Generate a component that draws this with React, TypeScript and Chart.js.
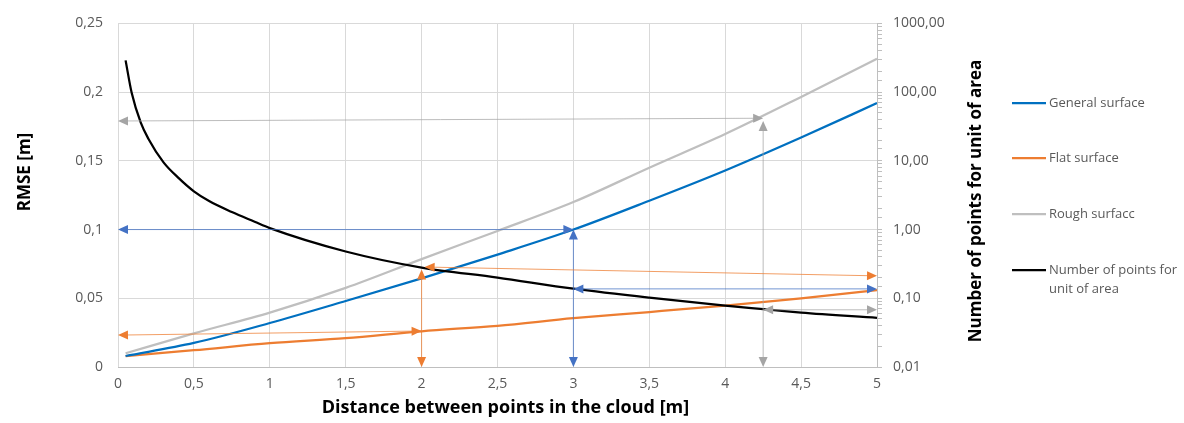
import React, { useEffect, useRef } from 'react';
import { Chart, registerables } from 'chart.js';

Chart.register(...registerables);

const FONT = '"Open Sans", sans-serif';
const TICK_COLOR = '#595959';

// Distances (m) for RMSE series
const distances = [0.05, 0.5, 1, 1.5, 2, 2.5, 3, 3.5, 4, 4.5, 5];
const generalSurface = [0.008, 0.0175, 0.032, 0.048, 0.0645, 0.0818, 0.1, 0.121, 0.143, 0.167, 0.192];
const flatSurface = [0.008, 0.0122, 0.0173, 0.021, 0.026, 0.03, 0.0355, 0.04, 0.0447, 0.05, 0.056];
const roughSurface = [0.01, 0.0245, 0.0396, 0.0576, 0.0785, 0.099, 0.12, 0.145, 0.1695, 0.1965, 0.2243];

// Number of points for unit of area (right log axis)
const densityDistances = [0.05, 0.09, 0.15, 0.2, 0.3, 0.4, 0.5, 0.6, 0.75, 0.9, 1, 1.5, 2, 2.5, 3, 3.5, 4, 4.5, 5];
const densityValues = [290, 98, 36, 21, 9.5, 5.6, 3.6, 2.6, 1.8, 1.3, 1.05, 0.48, 0.28, 0.2, 0.138, 0.102, 0.078, 0.062, 0.052];

const seriesLabels = ['General surface', 'Flat surface', 'Rough surfacc', 'Number of points for unit of area'];
const legendLines = [['General surface'], ['Flat surface'], ['Rough surfacc'], ['Number of points for', 'unit of area']];
const seriesColors = ['#0070C0', '#ED7D31', '#BFBFBF', '#000000'];

const xTitle = 'Distance between points in the cloud [m]';
const yTitle = 'RMSE [m]';
const y2Title = 'Number of points for unit of area';

// Reading arrows: start [x, value], end [x, value], axis, colour
const arrowStart = [
  [0, 0.179], [4.25, 0.179], [4.25, 0.068],
  [0, 0.1], [3, 0.1], [3, 0.137],
  [0, 0.0232], [2, 0.071], [2.02, 0.285],
];
const arrowEnd = [
  [4.25, 0.181], [4.25, 0], [5, 0.068],
  [3, 0.1], [3, 0], [5, 0.137],
  [2, 0.0262], [2, 0], [5, 0.212],
];
const arrowAxes = ['y', 'y', 'y2', 'y', 'y', 'y2', 'y', 'y', 'y2'];
const arrowColors = ['#A5A5A5', '#A5A5A5', '#A5A5A5', '#4472C4', '#4472C4', '#4472C4', '#ED7D31', '#ED7D31', '#ED7D31'];

const fmt = (v: number, d?: number) => {
  const s = d !== undefined ? v.toFixed(d) : String(Math.round(v * 1000) / 1000);
  return s.replace('.', ',');
};

function drawHead(ctx: CanvasRenderingContext2D, tx: number, ty: number, dx: number, dy: number, len: number, w: number) {
  const bx = tx - dx * len;
  const by = ty - dy * len;
  const px = -dy;
  const py = dx;
  ctx.beginPath();
  ctx.moveTo(tx, ty);
  ctx.lineTo(bx + px * w, by + py * w);
  ctx.lineTo(bx - px * w, by - py * w);
  ctx.closePath();
  ctx.fill();
}

const overlayPlugin = {
  id: 'overlay',
  afterDatasetsDraw(chart: any) {
    const ctx: CanvasRenderingContext2D = chart.ctx;
    const xs = chart.scales.x;
    ctx.save();
    for (let i = 0; i < arrowStart.length; i++) {
      const ys = chart.scales[arrowAxes[i]];
      const x1 = xs.getPixelForValue(arrowStart[i][0]);
      const y1 = ys.getPixelForValue(arrowStart[i][1]);
      const x2 = xs.getPixelForValue(arrowEnd[i][0]);
      const y2 = ys.getPixelForValue(arrowEnd[i][1]);
      const L = Math.hypot(x2 - x1, y2 - y1);
      const dx = (x2 - x1) / L;
      const dy = (y2 - y1) / L;
      const len = 10;
      const w = 4.5;
      ctx.strokeStyle = arrowColors[i];
      ctx.fillStyle = arrowColors[i];
      ctx.globalAlpha = 0.75;
      ctx.lineWidth = 1;
      ctx.beginPath();
      ctx.moveTo(x1 + dx * (len - 1), y1 + dy * (len - 1));
      ctx.lineTo(x2 - dx * (len - 1), y2 - dy * (len - 1));
      ctx.stroke();
      ctx.globalAlpha = 1;
      drawHead(ctx, x1, y1, -dx, -dy, len, w);
      drawHead(ctx, x2, y2, dx, dy, len, w);
    }
    ctx.restore();
  },
  afterDraw(chart: any) {
    const ctx: CanvasRenderingContext2D = chart.ctx;
    const area = chart.chartArea;
    ctx.save();
    // axis titles
    ctx.fillStyle = '#000';
    ctx.textAlign = 'center';
    ctx.textBaseline = 'middle';
    ctx.font = `bold 18px ${FONT}`;
    ctx.fillText(xTitle, (area.left + area.right) / 2 + 8, 408);
    ctx.font = `bold 17px ${FONT}`;
    ctx.save();
    ctx.translate(25, 172);
    ctx.rotate(-Math.PI / 2);
    ctx.fillText(yTitle, 0, 0);
    ctx.restore();
    ctx.save();
    ctx.translate(976, 201);
    ctx.rotate(-Math.PI / 2);
    ctx.fillText(y2Title, 0, 0);
    ctx.restore();
    // legend
    const ys = [103, 158, 214, 270];
    ctx.font = `13px ${FONT}`;
    ctx.textAlign = 'left';
    for (let i = 0; i < legendLines.length; i++) {
      ctx.strokeStyle = seriesColors[i];
      ctx.lineWidth = 2.25;
      ctx.beginPath();
      ctx.moveTo(1012, ys[i]);
      ctx.lineTo(1046, ys[i]);
      ctx.stroke();
      ctx.fillStyle = TICK_COLOR;
      legendLines[i].forEach((t, j) => ctx.fillText(t, 1049, ys[i] + j * 19));
    }
    ctx.restore();
  },
};

export default function App() {
  const ref = useRef<HTMLCanvasElement>(null);
  useEffect(() => {
    document.body.style.margin = '0';
    const toPts = (xs: number[], vs: number[]) => xs.map((x, i) => ({ x, y: vs[i] }));
    const mk = (i: number, data: any[], axis: string) => ({
      label: seriesLabels[i],
      data,
      yAxisID: axis,
      borderColor: seriesColors[i],
      backgroundColor: seriesColors[i],
      borderWidth: 2.25,
      pointRadius: 0,
      cubicInterpolationMode: 'monotone' as const,
      fill: false,
    });
    const chart = new Chart(ref.current!, {
      type: 'line',
      data: {
        datasets: [
          mk(3, toPts(densityDistances, densityValues), 'y2'),
          mk(2, toPts(distances, roughSurface), 'y'),
          mk(0, toPts(distances, generalSurface), 'y'),
          mk(1, toPts(distances, flatSurface), 'y'),
        ],
      },
      options: {
        animation: false,
        responsive: false,
        layout: { padding: { top: 20, left: 0, right: 0, bottom: 0 } },
        plugins: { legend: { display: false }, tooltip: { enabled: false } },
        scales: {
          x: {
            type: 'linear',
            min: 0,
            max: 5,
            afterFit: (s: any) => { s.height = 56; },
            ticks: { stepSize: 0.5, color: TICK_COLOR, font: { family: FONT, size: 14 }, padding: 9, callback: (v: any) => fmt(Number(v)), maxRotation: 0 },
            grid: { color: '#D9D9D9', drawTicks: false },
            border: { color: '#BFBFBF' },
          },
          y: {
            type: 'linear',
            position: 'left',
            min: 0,
            max: 0.25,
            afterFit: (s: any) => { s.width = 118; },
            ticks: { stepSize: 0.05, color: TICK_COLOR, font: { family: FONT, size: 14 }, padding: 15, callback: (v: any) => fmt(Number(v)) },
            grid: { color: '#D9D9D9', drawTicks: false },
            border: { display: false },
          },
          y2: {
            type: 'logarithmic',
            position: 'right',
            min: 0.01,
            max: 1000,
            afterFit: (s: any) => { s.width = 307; },
            ticks: {
              autoSkip: false,
              color: TICK_COLOR,
              font: { family: FONT, size: 14 },
              padding: 11,
              callback: (v: any) => {
                const l = Math.log10(Number(v));
                return Math.abs(l - Math.round(l)) < 1e-9 ? fmt(Number(v), 2) : '';
              },
            },
            grid: { drawOnChartArea: false, color: '#BFBFBF', tickLength: 5 },
            border: { color: '#BFBFBF' },
          },
        },
      },
      plugins: [overlayPlugin],
    });
    return () => chart.destroy();
  }, []);
  return (
    <div style={{ width: 1184, height: 423 }}>
      <canvas ref={ref} width={1184} height={423} />
    </div>
  );
}
